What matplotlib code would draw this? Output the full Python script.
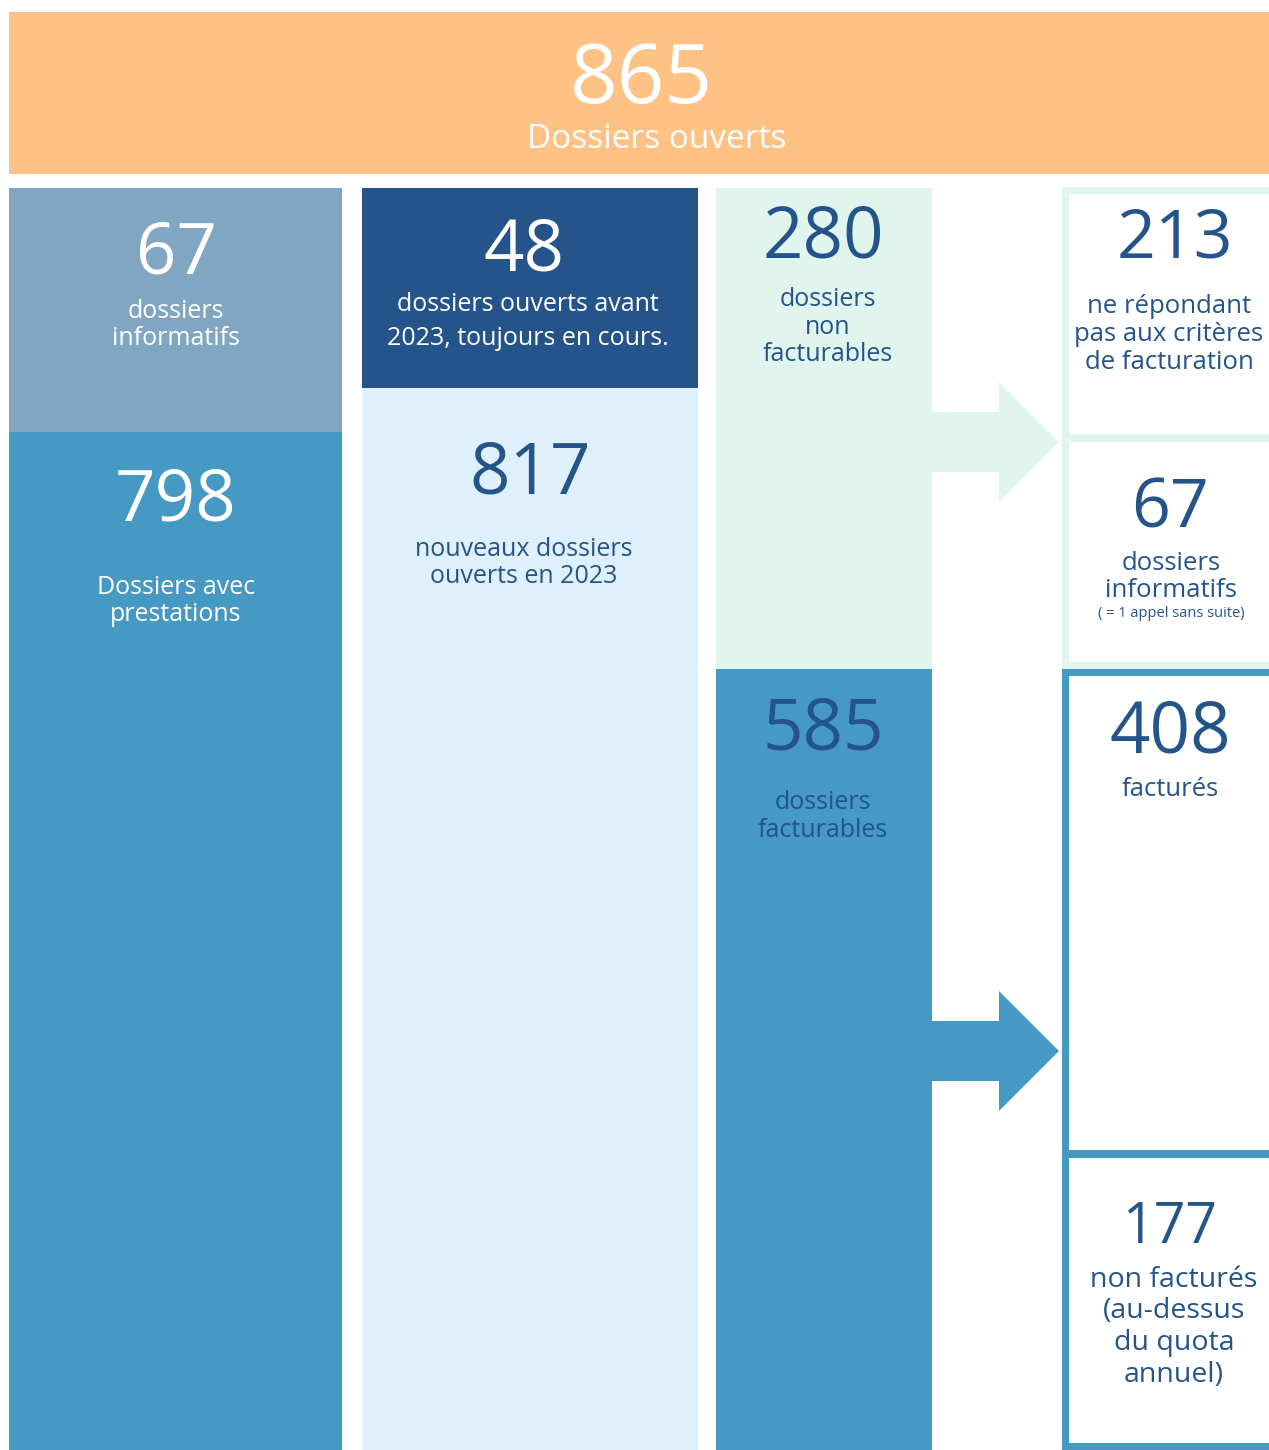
import matplotlib
matplotlib.use("Agg")
import matplotlib.pyplot as plt
from matplotlib.patches import Rectangle, Polygon

# ---------------- data ----------------
total_value = 865
total_label = "Dossiers ouverts"

col1_values = [67, 798]
col1_labels = ["dossiers\ninformatifs", "Dossiers avec\nprestations"]

col2_values = [48, 817]
col2_labels = ["dossiers ouverts avant\n2023, toujours en cours.",
               "nouveaux dossiers\nouverts en 2023"]

col3_values = [280, 585]
col3_labels = ["dossiers\nnon\nfacturables", "dossiers\nfacturables"]

col4_values = [213, 67, 408, 177]
col4_labels = ["ne répondant\npas aux critères\nde facturation",
               "dossiers\ninformatifs",
               "facturés",
               "non facturés\n(au-dessus\ndu quota\nannuel)"]
col4_notes = ["", "( = 1 appel sans suite)", "", ""]

# ---------------- styles ----------------
ORANGE = "#FFC285"
GREYBLUE = "#80A6C1"
BLUE = "#4599C3"
NAVY = "#245489"
LIGHTBLUE = "#DEF0FC"
MINT = "#DFF5EE"
WHITE = "#FFFFFF"
FONT = ["Open Sans", "DejaVu Sans"]

W, H = 1269, 1450
fig = plt.figure(figsize=(W / 100, H / 100), dpi=100)
ax = fig.add_axes([0, 0, 1, 1])
ax.set_xlim(0, W)
ax.set_ylim(H, 0)
ax.axis("off")


def box(x0, y0, x1, y1, color):
    ax.add_patch(Rectangle((x0, y0), x1 - x0, y1 - y0, facecolor=color,
                           edgecolor="none", zorder=1))


def frame(x0, y0, x1, y1, color, lw_px):
    box(x0, y0, x1, y0 + lw_px, color)
    box(x0, y1 - lw_px, x1, y1, color)
    box(x0, y0, x0 + lw_px, y1, color)


def num(x, y, value, color, size, weight="normal"):
    ax.text(x, y, str(value), ha="center", va="baseline", color=color,
            fontsize=size, fontfamily=FONT, fontweight=weight, zorder=3)


def label(x, y, txt, color, size, spacing, weight="normal"):
    for i, line in enumerate(txt.split("\n")):
        ax.text(x, y + i * spacing, line, ha="center", va="baseline",
                color=color, fontsize=size, fontfamily=FONT,
                fontweight=weight, zorder=3)


def arrow(x0, xm, x1, yc, half_shaft, half_head, color):
    pts = [(x0, yc - half_shaft), (xm, yc - half_shaft), (xm, yc - half_head),
           (x1, yc), (xm, yc + half_head), (xm, yc + half_shaft),
           (x0, yc + half_shaft)]
    ax.add_patch(Polygon(pts, closed=True, facecolor=color, edgecolor="none",
                         zorder=2))


# banner
box(9, 12, W, 174, ORANGE)
num(641, 103, total_value, WHITE, 60)
label(657, 148, total_label, WHITE, 24, 30)

# column 1
box(9, 188, 342, 432, GREYBLUE)
box(9, 432, 342, H, BLUE)
num(176, 273, col1_values[0], WHITE, 51)
label(176, 318, col1_labels[0], WHITE, 18, 27)
num(176, 520, col1_values[1], WHITE, 51)
label(176, 594, col1_labels[1], WHITE, 18, 27)

# column 2
box(362, 188, 698, 388, NAVY)
box(362, 388, 698, H, LIGHTBLUE)
num(524, 270, col2_values[0], WHITE, 51)
label(528, 311, col2_labels[0], WHITE, 18, 34)
num(530, 493, col2_values[1], NAVY, 51)
label(524, 556, col2_labels[1], NAVY, 18, 27)

# column 3
box(716, 188, 932, 669, MINT)
box(716, 669, 932, H, BLUE)
num(823, 257, col3_values[0], NAVY, 51)
label(828, 306, col3_labels[0], NAVY, 18, 27.5)
num(823, 749, col3_values[1], NAVY, 51)
label(823, 809, col3_labels[1], NAVY, 18, 28)

# arrows
arrow(932, 999, 1059, 442, 30, 60, MINT)
arrow(932, 999, 1059, 1051, 30, 60, BLUE)

# column 4 frames
frame(1062, 187, W + 20, 669, MINT, 7)
box(1062, 434, W, 442, MINT)
frame(1062, 669, W + 20, H, BLUE, 7)
box(1062, 1150, W, 1158, BLUE)

num(1175, 257, col4_values[0], NAVY, 49)
label(1169, 313, col4_labels[0], NAVY, 18.5, 28)
num(1170, 527, col4_values[1], NAVY, 49)
label(1171, 570, col4_labels[1], NAVY, 18.5, 27)
label(1171, 617, col4_notes[1], NAVY, 10.5, 14)
num(1170, 752, col4_values[2], NAVY, 51)
label(1170, 796, col4_labels[2], NAVY, 18.5, 28)
num(1170, 1243, col4_values[3], NAVY, 40)
label(1174, 1287, col4_labels[3], NAVY, 20.5, 31.5)

fig.savefig("out.png", dpi=100)
